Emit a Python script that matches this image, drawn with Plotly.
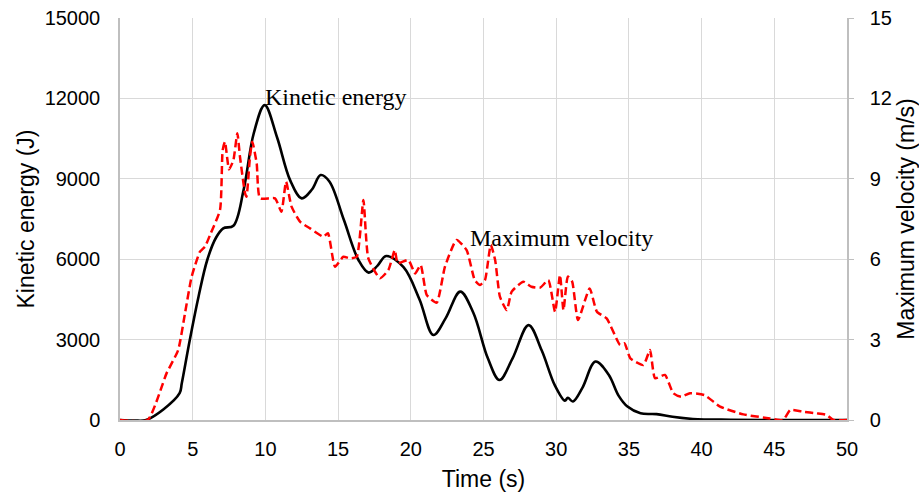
import plotly.graph_objects as go

# Kinetic energy (J) vs time (s)
ke_time = [0, 1.0, 1.8, 3.0, 4.1, 4.25, 4.8, 5.4, 6.0, 6.6, 7.1, 7.8, 8.5, 9.2, 9.95, 10.8, 11.7, 12.5, 13.2, 13.8, 14.4,
           15.4, 16.4, 17.1, 17.7, 18.3, 19.5, 20.6, 21.55, 22.4, 23.4, 24.3, 25.3, 26.1, 27.0, 28.1, 29.0, 29.9,
           30.6, 30.8, 31.15, 31.8, 32.7, 33.6, 34.3, 34.9, 35.8, 36.9, 38.0, 39.4, 42.0, 46.0, 50.0]
ke_value = [0, -20, 0, 400, 1000, 1370, 2985, 4600, 5970, 6800, 7150, 7250, 8580, 10700, 11750, 10550, 8950, 8270, 8600, 9140, 8900,
            7460, 5970, 5500, 5750, 6120, 5700, 4500, 3170, 3800, 4790, 4000, 2300, 1490, 2300, 3540, 2600, 1300,
            720, 830, 690, 1200, 2180, 1700, 900, 500, 250, 220, 120, 40, 10, 0, 0]

# Maximum velocity (m/s) vs time (s)
v_time = [0, 1.9, 3.2, 4.0, 4.47, 4.93, 5.5, 5.85, 6.19, 6.88, 7.06, 7.22, 7.5, 7.8, 8.07, 8.25, 8.6, 8.7, 8.94, 9.1, 9.4, 9.63,
          10.66, 11.1, 11.42, 11.8, 12.38, 13.07, 13.98, 14.3, 14.79, 15.36, 15.82, 16.28, 16.74, 17.08, 17.88, 18.46,
          18.9, 19.1, 19.83, 20.3, 20.68, 21.1, 21.78, 22.35, 23.15, 23.84, 24.4, 24.76, 25.1, 25.5, 25.8, 26.13, 26.6,
          26.94, 27.74, 28.3, 28.9, 29.46, 29.92, 30.26, 30.5, 30.8, 31.1, 31.5, 32.3, 32.8, 33.47, 34.4, 34.7, 35.1,
          36.0, 36.45, 36.8, 37.48, 38.05, 38.6, 39.2, 40.2, 41.27, 42.87, 44.7, 45.6, 46.1, 47.0, 47.9, 48.6, 49.06, 50.0]
v_value = [0, 0, 1.74, 2.61, 3.98, 5.35, 6.28, 6.47, 6.9, 7.84, 10.07, 10.38, 9.35, 9.7, 10.7, 9.83, 8.46, 8.33, 9.83, 10.38, 9.58, 8.27,
           8.27, 7.77, 8.89, 7.96, 7.4, 7.15, 6.84, 6.97, 5.72, 6.09, 6.03, 6.09, 8.21, 6.03, 5.29, 5.6,
           6.34, 5.85, 5.97, 5.47, 5.78, 4.66, 4.38, 5.72, 6.72, 6.34, 5.22, 5.04, 5.22, 6.53, 5.97, 4.6, 4.1,
           4.79, 5.16, 4.97, 4.94, 5.22, 4.04, 5.41, 4.1, 5.35, 5.16, 3.73, 4.91, 4.04, 3.79, 2.8, 2.86, 2.3,
           2.05, 2.61, 1.56, 1.68, 1.0, 0.87, 1.0, 0.93, 0.5, 0.21, 0.06, 0.0, 0.37, 0.31, 0.25, 0.19, 0.0, 0.0]

x_ticks = [0, 5, 10, 15, 20, 25, 30, 35, 40, 45, 50]
ke_ticks = [0, 3000, 6000, 9000, 12000, 15000]
ke_tick_labels = ["0", "3000", "6000", "9000", "12000", "15000"]
v_ticks = [0, 3, 6, 9, 12, 15]

fig = go.Figure()
fig.add_trace(go.Scatter(x=ke_time, y=ke_value, mode="lines", name="Kinetic energy",
                         line=dict(color="black", width=2.6, shape="spline", smoothing=1.0)))
fig.add_trace(go.Scatter(x=v_time, y=v_value, mode="lines", name="Maximum velocity", yaxis="y2",
                         line=dict(color="#ff0000", width=2.5, dash="8px,4px", shape="spline", smoothing=0.5)))

serif = dict(family="Liberation Serif", size=24, color="black")
fig.add_annotation(x=9.83, y=12060, xref="x", yref="y", text="Kinetic energy", showarrow=False,
                   xanchor="left", yanchor="middle", font=serif)
fig.add_annotation(x=23.93, y=6.78, xref="x", yref="y2", text="Maximum velocity", showarrow=False,
                   xanchor="left", yanchor="middle", font=serif)

tick_font = dict(family="Liberation Sans", size=20, color="black")
title_font = dict(family="Liberation Sans", size=23, color="black")
fig.update_layout(
    width=919, height=494,
    margin=dict(l=120, r=72, t=18, b=74, autoexpand=False),
    paper_bgcolor="white", plot_bgcolor="white",
    showlegend=False,
    font=dict(family="Liberation Sans", color="black"),
    xaxis=dict(range=[0, 50], tickvals=x_ticks, showgrid=True, gridcolor="#d9d9d9", gridwidth=1,
               showline=True, linecolor="#bfbfbf", linewidth=1.5, zeroline=False, automargin=False,
               tickfont=tick_font, ticks="", ticklabelstandoff=10,
               title=dict(text="Time (s)", font=title_font, standoff=12)),
    yaxis=dict(range=[0, 15000], tickvals=ke_ticks, ticktext=ke_tick_labels, showgrid=True, gridcolor="#d9d9d9", gridwidth=1,
               showline=True, linecolor="#bfbfbf", linewidth=1.5, zeroline=False, automargin=False,
               tickfont=tick_font, ticks="", ticklabelstandoff=14,
               title=dict(text="Kinetic energy (J)", font=title_font, standoff=4)),
    yaxis2=dict(range=[0, 15], tickvals=v_ticks, overlaying="y", side="right", showgrid=False,
                showline=True, linecolor="#bfbfbf", linewidth=1.5, zeroline=False, automargin=False,
                ticks="outside", ticklen=5, tickcolor="#bfbfbf", ticklabelstandoff=12,
                tickfont=tick_font, title=dict(text="Maximum velocity (m/s)", font=title_font, standoff=8)),
)

fig.write_html("out.html")
